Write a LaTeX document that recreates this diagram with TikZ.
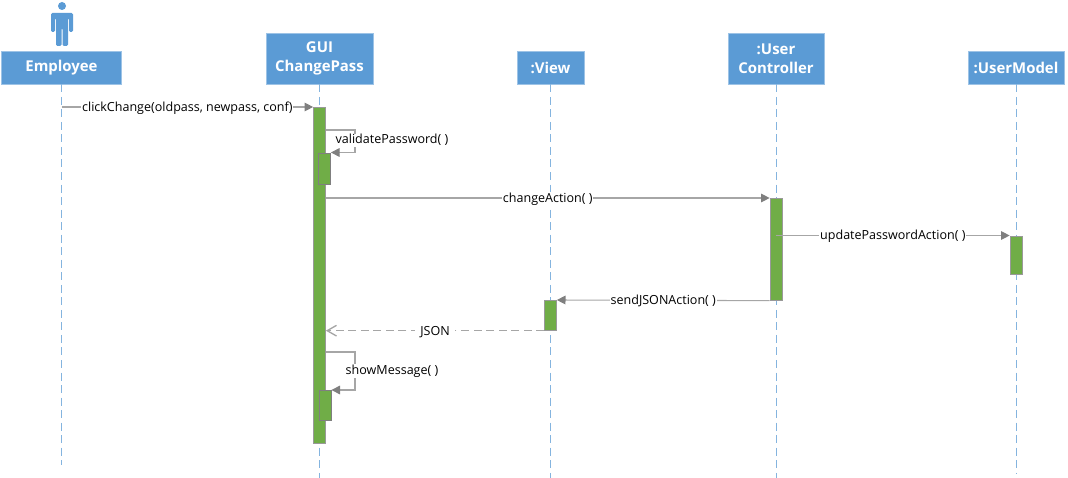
\documentclass[tikz,border=0pt]{standalone}
\usepackage{fontspec}
\setmainfont{Open Sans}
\usetikzlibrary{arrows.meta}
\definecolor{headblue}{HTML}{5B9BD5}
\definecolor{lifeblue}{HTML}{9DC3E6}
\definecolor{bargreen}{HTML}{70AD47}
\definecolor{msggray}{HTML}{A6A6A6}
\definecolor{tipgray}{HTML}{7F7F7F}
\tikzset{
  headbox/.style={rectangle,fill=headblue,draw=lifeblue,line width=0.4pt,text=white,font=\fontsize{11.2}{14.25}\selectfont\bfseries,align=center,minimum height=24.75pt,inner sep=0pt},
  headtall/.style={headbox,minimum height=38.25pt},
  lifeline/.style={draw=headblue!75!white,line width=0.7pt,dash pattern=on 6pt off 3.4pt},
  bar/.style={rectangle,fill=bargreen,draw=tipgray!80!white,line width=0.5pt,minimum width=9pt,inner sep=0pt,anchor=north},
  innerbar/.style={bar,draw=tipgray,line width=0.6pt},
  msg/.style={draw=msggray,line width=0.8pt,-{Triangle[length=6.5pt,width=6.5pt,color=tipgray]}},
  msgback/.style={draw=msggray,line width=1pt,dash pattern=on 6pt off 3.4pt,-{Straight Barb[length=7pt,width=8pt,color=msggray]}}
}
\begin{document}
\begin{tikzpicture}[x=0.75pt,y=-0.75pt,
    lbl/.style={fill=white,inner sep=0.6pt,font=\fontsize{9.4}{11}\selectfont,text=black,yshift=-0.8pt}
  ]
  \useasboundingbox (0,0) rectangle (1068,478);
  % heads
  \node [headbox,minimum width=90pt] (emp) at (61.5,67.5) {\raisebox{-1.5pt}{Employee}};
  \node [headtall,minimum width=80pt] (gui) at (319.5,58.5) {\raisebox{-1.5pt}{GUI}\\\raisebox{-1.5pt}{ChangePass}};
  \node [headbox,minimum width=50pt] (view) at (550.5,67.5) {\raisebox{-1.5pt}{:View}};
  \node [headtall,minimum width=72pt] (ctrl) at (776,58.5) {\raisebox{-1.5pt}{:User}\\\raisebox{-1.5pt}{Controller}};
  \node [headbox,minimum width=72pt] (model) at (1016,67.5) {\raisebox{-0.5pt}{:UserModel}};
  % actor
  \fill [headblue] (62,6) circle [radius=4];
  \fill [headblue,rounded corners=1pt] (51,13) -- (73,13) -- (73,32) -- (69,32) -- (69,18) -- (68,18) -- (68,46)
    -- (62.5,46) -- (62.5,28) -- (61.5,28) -- (61.5,46) -- (56,46) -- (56,18) -- (55,18) -- (55,32) -- (51,32) -- cycle;
  % ends of lifelines
  \coordinate (empend) at (61.5,465);
  \coordinate (guiend) at (319.5,478);
  \coordinate (viewend) at (550.5,478);
  \coordinate (ctrlend) at (776,478);
  \coordinate (modelend) at (1016,474);
  \draw [lifeline] (emp.south) -- (empend);
  \draw [lifeline] (gui.south) -- (guiend);
  \draw [lifeline] (view.south) -- (viewend);
  \draw [lifeline] (ctrl.south) -- (ctrlend);
  \draw [lifeline] (model.south) -- (modelend);
  % bars
  \node [bar,minimum height=252pt] (guibar) at (319.5,107) {};
  \node [innerbar,minimum height=23.25pt] (valbar) at (324.5,152.5) {};
  \node [innerbar,minimum height=22.5pt] (showbar) at (325,390) {};
  \node [bar,minimum height=76.5pt] (ctrlbar) at (776,198) {};
  \node [bar,minimum height=28.5pt] (modelbar) at (1016,235.5) {};
  \node [bar,minimum height=22.5pt] (viewbar) at (550.5,300) {};
  % bends of the self calls
  \coordinate (valfrom) at (325.5,130);
  \coordinate (valbend) at (355,130);
  \coordinate (showfrom) at (325.5,352);
  \coordinate (showbend) at (355,352);
  % messages
  \path [draw=none] (emp |- guibar.north) edge[msg] node [lbl,pos=0.5] {clickChange(oldpass, newpass, conf)} (guibar.north west)
    (guibar.east |- ctrlbar.north) edge[msg] node [lbl] {changeAction( )} (ctrlbar.north west)
    (ctrl |- modelbar.north) edge[msg] node [lbl] {updatePasswordAction( )} (modelbar.north west)
    (ctrlbar.south west) edge[msg] node [lbl] {sendJSONAction( )} (viewbar.north east)
    (viewbar.south west) edge[msgback] node [lbl,inner xsep=4pt] {JSON} (guibar.east |- viewbar.south);
  \draw [msg] (valfrom) -- (valbend) -- node [lbl,pos=0.4,xshift=27.75pt] {validatePassword( )} (valbend |- valbar.north) -- (valbar.north east);
  \draw [msg] (showfrom) -- (showbend) -- node [lbl,pos=0.47,xshift=27.75pt] {showMessage( )} (showbend |- showbar.north) -- (showbar.north east);
\end{tikzpicture}
\end{document}
